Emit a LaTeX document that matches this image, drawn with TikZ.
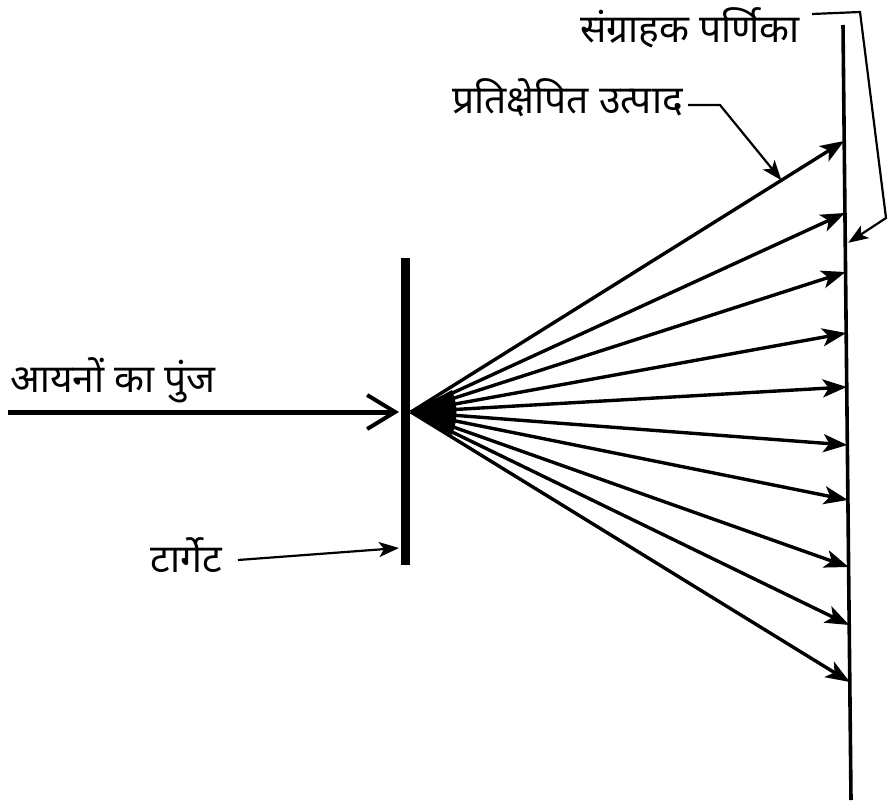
\documentclass[tikz,border=0pt]{standalone}
\usepackage{fontspec}
\newfontfamily\hindi[Script=Devanagari]{Noto Sans}
\usetikzlibrary{arrows.meta,positioning,calc}

\begin{document}
\begin{tikzpicture}[x=1pt, y=-1pt,
    txt/.style={font=\hindi\fontsize{39}{46}\selectfont, inner sep=0pt},
    ray/.style={-{Stealth[length=24pt, width=18pt, inset=6pt]}, line width=3.4pt},
    pointer/.style={-{Stealth[length=20pt, width=15pt, inset=5pt]}, line width=2.2pt},
    beam/.style={-{Straight Barb[length=28pt, width=34pt, line width=4pt]}, line width=5pt},
  ]
  \useasboundingbox (0,0) rectangle (894,803);

  % target and collector plate
  \coordinate (tgtop) at (405,258);
  \coordinate (tgbot) at (405,565);
  \draw[line width=9pt] (tgtop) -- (tgbot);
  \coordinate (pltop) at (843,25);
  \coordinate (plbot) at (851,800);
  \draw[line width=3.6pt] (pltop) -- (plbot);

  % ion beam onto the target
  \coordinate (src) at (8,412);
  \coordinate (beamhit) at (399,412);
  \coordinate (V) at (411,412);
  \draw[beam] (src) -- (beamhit);

  % fan of recoil products
  \fill (V) -- (452,390) to[bend left=20] (452,435) -- cycle;
  \foreach \y [count=\i] in {141,213,272,333,387,445,500,567,625,682}
    \draw[ray] (V) -- ($(pltop)!{(\y-25)/775}!(plbot)$) coordinate (r\i);

  % labels
  \node[txt, anchor=base west] (beamlbl) at (10,392) {आयनों का पुंज};
  \node[txt, anchor=base east] (tgtlbl) at (222,572) {टार्गेट};
  \node[txt, anchor=base east] (prodlbl) at (683,113) {प्रतिक्षेपित उत्पाद};
  \node[txt, anchor=base east] (colllbl) at (800,42) {संग्राहक पर्णिका};

  % pointers
  \coordinate (tghit) at (399,548);
  \draw[pointer] ($(tgtlbl.base east)+(16,-12)$) -- (tghit);
  \path (V) -- (r1) coordinate[pos=0.855] (prodhit);
  \draw[pointer] ($(prodlbl.base east)+(5,-8)$) -- ++(32,0) -- (prodhit);
  \coordinate (plhit) at ($(pltop)!0.281!(plbot)+(3,0)$);
  \draw[pointer] ($(colllbl.base east)+(12,-28)$) -- (860,12) -- (886,218) -- (plhit);
\end{tikzpicture}
\end{document}
